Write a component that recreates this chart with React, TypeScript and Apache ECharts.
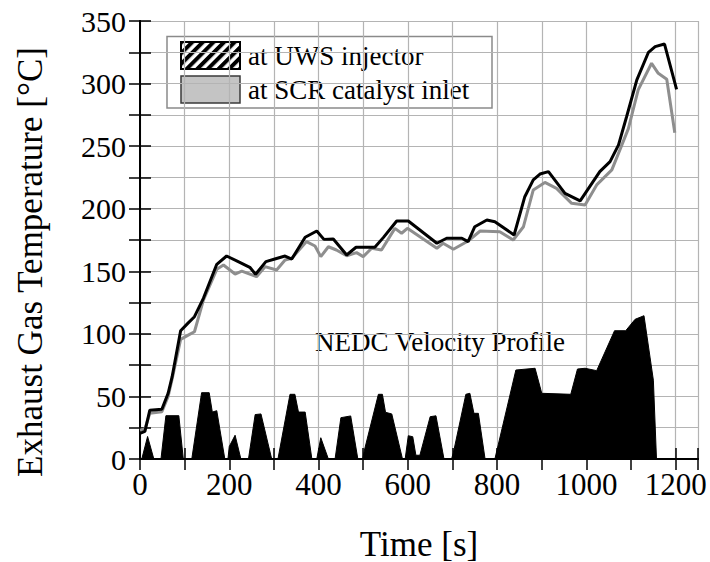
import React, { useEffect, useRef } from "react";
import * as echarts from "echarts";

// Temperature at UWS injector (black)
const uwsTime = [0, 11, 22, 49, 63, 72, 91, 107, 122, 142, 172, 194, 220, 246, 259, 282, 302, 325, 340, 370, 396, 412, 433, 463, 484, 526, 545, 575, 601, 665, 687, 721, 735, 750, 777, 795, 838, 862, 881, 896, 915, 952, 986, 1030, 1053, 1072, 1090, 1113, 1139, 1154, 1175, 1202];
const uwsTemp = [20.5, 22, 39, 39.7, 52.5, 65.8, 102.5, 108.4, 113.7, 128.4, 155.6, 162.2, 157.7, 153.2, 147.6, 157.7, 159.8, 162.2, 159.8, 177.2, 182.2, 175.5, 175.8, 163, 169.2, 169.2, 176.9, 190.2, 190.2, 172.4, 176.4, 176.4, 173.7, 185.6, 191, 189.6, 179, 209.6, 223, 227.7, 229.6, 212.3, 206.2, 229.6, 237.6, 251, 273.5, 302.9, 325, 329.5, 331.6, 295.4];

// Temperature at SCR catalyst inlet (grey)
const scrTime = [0, 11, 22, 49, 63, 72, 91, 108, 122, 142, 172, 187, 213, 228, 261, 280, 306, 325, 340, 373, 392, 405, 422, 440, 463, 485, 500, 519, 541, 571, 586, 599, 665, 679, 702, 735, 762, 806, 836, 859, 881, 907, 933, 967, 997, 1023, 1057, 1075, 1094, 1116, 1146, 1161, 1180, 1198];
const scrTemp = [23, 24, 36.5, 37.8, 50, 64, 95.6, 99, 101.7, 127, 151.6, 155, 147.8, 150.2, 145.7, 153.7, 151, 159, 160.4, 173.7, 170.2, 161.7, 169.6, 167, 162.4, 164.9, 161.7, 168.4, 167, 184.3, 180.4, 184.3, 168.4, 172.4, 167.6, 174.2, 182.2, 181.6, 175, 185.6, 215, 221, 216.3, 204.3, 203, 219, 231, 247, 264, 295, 316.2, 308.2, 303.4, 260.7];

// NEDC velocity profile (km/h)
const velTime = [4, 17, 31, 47, 58, 87, 97, 116, 138, 155, 162, 172, 190, 197, 200, 213, 226, 243, 258, 271, 295, 309, 336, 347, 355, 370, 385, 396, 405, 422, 437, 450, 472, 488, 499, 502, 534, 543, 550, 564, 588, 594, 601, 611, 618, 627, 650, 663, 681, 698, 702, 730, 739, 748, 758, 773, 795, 842, 885, 900, 965, 980, 997, 1023, 1063, 1088, 1109, 1129, 1150, 1157];
const velValue = [0, 18, 0, 0, 34.6, 34.6, 0, 0, 53, 53, 37.5, 38.6, 0, 0, 10, 19, 0, 0, 35.5, 36, 0, 0, 51.7, 51.7, 37.5, 37.5, 0, 0, 17, 0, 0, 33, 34.4, 0, 0, 6, 51.7, 51.7, 37.3, 36, 0, 0, 18.6, 17.8, 3, 3, 33.8, 34.5, 0, 0, 5, 51.7, 52.5, 36.5, 36.5, 0, 0, 71.1, 72.5, 52.5, 51.7, 71.9, 72.5, 70.6, 102.5, 102.5, 111.6, 114.5, 63, 0];

const xTickLabels = [0, 200, 400, 600, 800, 1000, 1200];
const yTickLabels = [0, 50, 100, 150, 200, 250, 300, 350];

const legendNames = ["at UWS injector", "at SCR catalyst inlet"];
const FONT = "'Liberation Serif', 'Times New Roman', serif";

const hatchSvg =
  "<svg xmlns='http://www.w3.org/2000/svg' width='61' height='29'>" +
  "<defs><pattern id='h' width='7.5' height='7.5' patternUnits='userSpaceOnUse' patternTransform='rotate(45)'>" +
  "<rect width='4' height='7.5' fill='black'/></pattern></defs>" +
  "<rect x='1' y='1' width='59' height='27' fill='white'/>" +
  "<rect x='1' y='1' width='59' height='27' fill='url(#h)' stroke='black' stroke-width='2'/></svg>";
const hatchUrl = "data:image/svg+xml;charset=utf-8," + encodeURIComponent(hatchSvg);

export default function App() {
  const ref = useRef<HTMLDivElement>(null);
  useEffect(() => {
    document.body.style.margin = "0";
    const chart = echarts.init(ref.current!, null, { renderer: "svg" });
    const pair = (t: number[], v: number[]) => t.map((x, i) => [x, v[i]]);
    const axisLine = { show: true, lineStyle: { color: "#000", width: 2 } };
    const tick = { show: true, inside: true, length: 11, lineStyle: { color: "#000", width: 1.5 } };
    const split = { show: true, lineStyle: { color: "#b4b4b4", width: 1.2 } };
    chart.setOption({
      animation: false,
      backgroundColor: "#fff",
      grid: { left: 140, top: 21, width: 558, height: 438, containLabel: false },
      xAxis: [
        {
          type: "value", min: 0, max: 1250, interval: 100, position: "bottom",
          axisLine, axisTick: tick, splitLine: split,
          axisLabel: {
            margin: 10, color: "#000", fontFamily: FONT, fontSize: 31,
            formatter: (v: number) => (xTickLabels.includes(v) ? String(v) : ""),
          },
        },
        {
          type: "value", min: 0, max: 1250, interval: 100, position: "top",
          axisLine, axisTick: tick, splitLine: { show: false }, axisLabel: { show: false },
        },
      ],
      yAxis: [
        {
          type: "value", min: 0, max: 350, interval: 25, position: "left",
          axisLine, axisTick: tick, splitLine: split,
          axisLabel: {
            margin: 14, color: "#000", fontFamily: FONT, fontSize: 30,
            formatter: (v: number) => (yTickLabels.includes(v) ? String(v) : ""),
          },
        },
        {
          type: "value", min: 0, max: 350, interval: 25, position: "right",
          axisLine, axisTick: tick, splitLine: { show: false }, axisLabel: { show: false },
        },
      ],
      series: [
        {
          name: "NEDC Velocity Profile", type: "line", data: pair(velTime, velValue),
          showSymbol: false, lineStyle: { color: "#000", width: 1 },
          areaStyle: { color: "#000", opacity: 1 }, z: 2,
        },
        {
          name: legendNames[1], type: "line", data: pair(scrTime, scrTemp),
          showSymbol: false, lineStyle: { color: "#8e8e8e", width: 3 }, z: 3,
        },
        {
          name: legendNames[0], type: "line", data: pair(uwsTime, uwsTemp),
          showSymbol: false, lineStyle: { color: "#000", width: 3 }, z: 4,
        },
      ],
      graphic: [
        {
          type: "group", z: 100,
          children: [
            { type: "rect", shape: { x: 167, y: 36.5, width: 325, height: 71.5 }, style: { fill: "#fff", stroke: "#8a8a8a", lineWidth: 1.5 } },
            { type: "image", style: { image: hatchUrl, x: 180, y: 41, width: 61, height: 29 } },
            { type: "rect", shape: { x: 181, y: 76, width: 59, height: 27 }, style: { fill: "#c4c4c4", stroke: "#3a3a3a", lineWidth: 1.5 } },
            { type: "text", x: 248, y: 56, style: { text: legendNames[0], font: `27px ${FONT}`, fill: "#000", verticalAlign: "middle", align: "left" } },
            { type: "text", x: 248, y: 90, style: { text: legendNames[1], font: `27px ${FONT}`, fill: "#000", verticalAlign: "middle", align: "left" } },
          ],
        },
        {
          type: "group", z: 50,
          children: [
            { type: "rect", shape: { x: 297, y: 323, width: 280, height: 37 }, style: { fill: "#fff" } },
            { type: "text", x: 440, y: 342, style: { text: "NEDC Velocity Profile", font: `27px ${FONT}`, fill: "#000", align: "center", verticalAlign: "middle" } },
          ],
        },
        {
          type: "text", x: 419, y: 544, z: 50,
          style: { text: "Time [s]", font: `35px ${FONT}`, fill: "#000", align: "center", verticalAlign: "middle" },
        },
        {
          type: "text", x: 30, y: 262, rotation: Math.PI / 2, z: 50,
          style: { text: "Exhaust Gas Temperature [°C]", font: `35px ${FONT}`, fill: "#000", align: "center", verticalAlign: "middle" },
        },
      ],
    });
    return () => chart.dispose();
  }, []);
  return <div ref={ref} style={{ width: 710, height: 562 }} />;
}
